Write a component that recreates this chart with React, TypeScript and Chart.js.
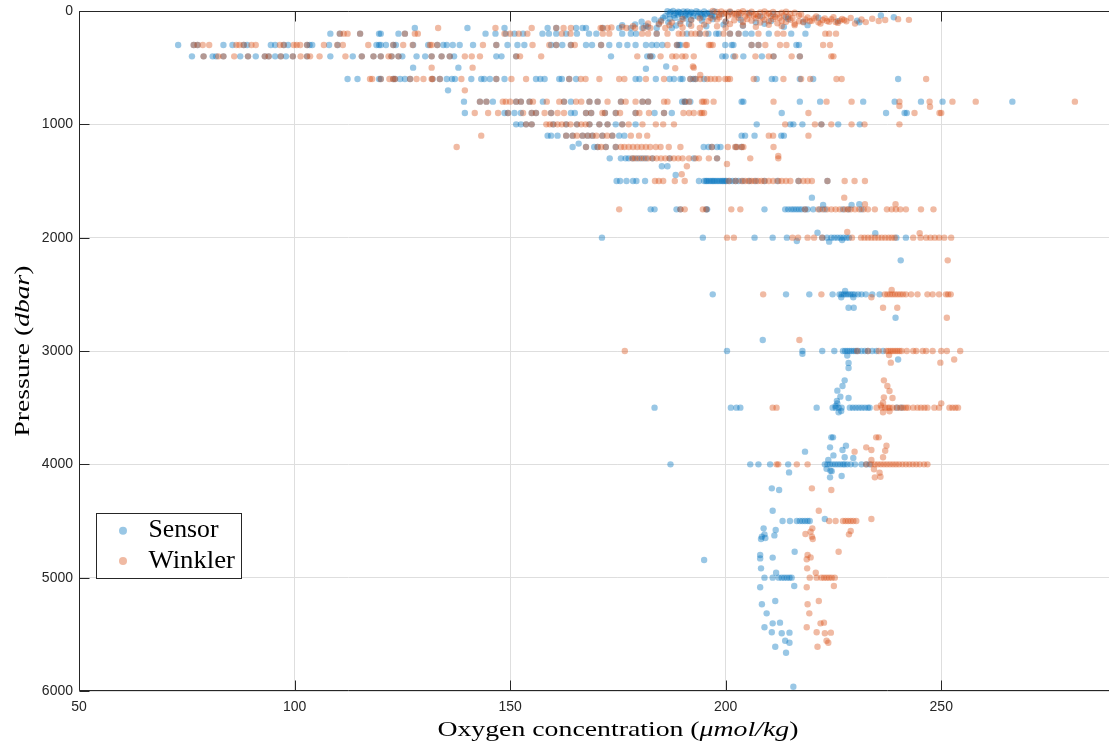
import React, { useEffect, useRef } from 'react';
import { Chart, registerables } from 'chart.js';

Chart.register(...registerables);

// Pressure levels (dbar) of the sampled bottles
const levels = [150, 200, 300, 400, 500, 600, 700, 800, 900, 1000, 1100, 1200, 1300, 1500, 1750, 2000, 2500, 3000, 3500, 4000, 4500, 5000];

// Sensor oxygen (umol/kg) per level
const sensorByLevel: number[][] = [
  [127.9, 140.1, 148.7, 158.7, 160.7, 165.3, 166.8, 167.6, 171.5, 175.3, 178, 180.7, 184, 187.5],
  [108.3, 110.5, 115.2, 119.6, 120.0, 124.1, 125.6, 144.3, 146.6, 149, 151, 153, 157.5, 159, 160.7, 163, 165.5, 168.3, 170, 176, 178, 179.2, 184, 191, 194, 196, 197.8, 198.4, 201, 203, 204.6, 206, 210, 215.2, 218.5],
  [73.0, 76.6, 77.5, 83.5, 85.6, 88.2, 89, 94.5, 95.5, 97.5, 98.5, 102.9, 103.5, 104.1, 108, 110, 119, 119.6, 120, 121.2, 122.9, 123.5, 127.5, 131, 133.1, 134.5, 135.3, 136.7, 138.3, 141.4, 146.8, 149.4, 151.7, 153.3, 159.5, 160.7, 162.1, 164.1, 167.6, 169, 171.1, 173, 175.3, 177.2, 179.1, 181.5, 182.9, 184, 185.3, 188.7, 189.1, 189.5, 199.9, 201.4, 201.8, 206, 207.6, 216.4, 217],
  [76.2, 78.9, 81.0, 81.8, 83.5, 87.4, 89.2, 91, 93.1, 94, 95.5, 96.8, 98, 99.6, 102.9, 108.3, 113.5, 115.6, 118.3, 120, 122.5, 124.1, 125, 128.3, 130.3, 131.8, 134.1, 136, 137, 146.8, 148, 151.4, 173.4, 181.8, 182.5, 183, 199.2, 200, 201.8, 204.1, 208.4, 211.1, 217.2],
  [127.5, 138],
  [112.3, 114.6, 119.6, 120, 122.9, 123.3, 124.5, 125.6, 126.8, 132, 133.7, 135.3, 136.5, 137.2, 141, 143.3, 144, 145.3, 146.8, 148.7, 156, 157, 158, 161.4, 162, 163.7, 165.3, 179.1, 180, 183.8, 187, 188, 189.5, 190, 191.8, 192.5, 193, 195, 207.2, 210.7, 211.5, 217.2, 220.3, 240],
  [135.6],
  [139.3, 143, 144.5, 146, 151.4, 152.5, 154.5, 157.6, 162.5, 164.1, 168.4, 170.3, 175.7, 180.7, 182, 189.9, 190.5, 190.7, 191.8, 203.7, 204.1, 217.2, 221.9, 231.9, 239.2, 245.3, 250.3, 266.5],
  [139.5, 148.7, 149.5, 151, 152.5, 155, 156, 159.5, 164.1, 165, 167.6, 168.8, 172, 174.5, 179.1, 183.5, 185.7, 187.5, 213, 237.2, 241.5, 242],
  [151.4, 152.5, 153.7, 155, 160, 163, 165.5, 168.4, 170.7, 172.6, 174.5, 176, 179.1, 207.2, 215, 215.7, 217.8, 222.2, 226.1, 231.1],
  [158.7, 159.5, 161, 163, 164.5, 166.8, 168, 169.1, 171.4, 173.7, 175.3, 176.5, 203.7, 204.5, 206.7, 212.9, 213.5],
  [164.5, 167.6, 169.5, 170.3, 172.2, 174.5, 194.9, 196, 196.8, 198, 198.8, 202.4, 203.7],
  [173.1, 175.7, 176.8, 177.5, 178.5, 179.5, 180.5, 181.5, 183, 187, 192.6, 198],
  [174.7, 175.5, 177, 178.5, 179.3, 181.3, 193.8, 195, 195.4, 195.7, 196.1, 196.5, 196.9, 197.2, 197.6, 198, 198.4, 198.8, 199.2, 199.5, 199.9, 200.2, 200.9, 201.6, 202.3, 203, 204, 205.5, 207, 209, 212, 216.9, 223.6],
  [182.6, 183.5, 188.6, 189.5, 195.5, 195.7, 209, 213.8, 214.5, 215.2, 215.8, 216.4, 217, 217.6, 218.4, 219, 220.3, 221.8, 223, 227.2, 228.5, 231.5],
  [171.3, 194.7, 206.7, 210.9, 214.2, 222.4, 223.5, 224.5, 225.2, 225.9, 226.6, 227.3, 228, 228.6, 239.6, 241.8],
  [197, 214, 219.4, 224.8, 226.4, 226.9, 227.4, 227.9, 228.4, 228.9, 229.4, 229.9, 230.7, 231.5, 232.5, 234, 235.7],
  [200.3, 217.8, 222.4, 225.2, 227.2, 227.7, 228.2, 228.7, 229.2, 229.7, 230.2, 230.7, 231.5, 232.3, 233, 234, 235, 236.5],
  [183.5, 201.2, 202.5, 203.4, 221.1, 224.8, 225.5, 226.2, 226.9, 228.8, 229.5, 230.2, 230.9, 231.6, 232.3, 233, 233.4, 239.7, 240.8],
  [187.2, 205.7, 207.6, 210.3, 214.5, 223, 223.6, 224.2, 224.8, 225.4, 226, 226.6, 227.2, 227.6, 228.2, 229, 230, 231.5, 232.6, 233.4],
  [213.2, 214.9, 216.5, 217.2, 217.8, 218.4, 219, 219.5],
  [209, 210.9, 212.3, 213, 213.6, 214.2, 214.8, 215.3],
];

// Winkler oxygen (umol/kg) per level
const winklerByLevel: number[][] = [
  [133.3, 146.6, 155.0, 160.7, 162.4, 164.1, 171.4, 172.6, 177, 179, 182.5, 186],
  [110.5, 111.4, 112.3, 115.2, 125.6, 127.9, 128.6, 148.7, 150, 152, 154, 162, 164, 171.5, 173, 180.6, 182, 184, 186.5, 189.1, 190, 192, 193, 194, 195.4, 199.5, 201, 203, 207.6, 212, 213.4, 223.1, 224, 225.6],
  [76.6, 77.5, 78.7, 80.2, 86.5, 87.2, 88.2, 90, 91.0, 96.6, 97.5, 99.8, 100.5, 101.3, 102.9, 106.8, 109.9, 111.2, 117.1, 122.9, 125.2, 127.4, 131.4, 131.8, 133.1, 143.7, 146.8, 155.2, 159.1, 160.7, 164.1, 165, 171.1, 186.5, 188.7, 190.7, 191, 196.1, 196.5, 197, 206, 207.6, 209.2, 212.6, 214.1, 222.6, 224.2],
  [78.9, 82.3, 83.5, 86.0, 89.2, 93.1, 94, 96.8, 99.6, 101.4, 102.9, 103.6, 105.8, 111.8, 115.6, 118.3, 120, 121.8, 122.5, 124.1, 131.8, 134.1, 136, 139.5, 141.1, 143, 151.4, 152.3, 157.2, 179.5, 182.5, 184.9, 187.6, 188.5, 189.9, 190.7, 192.6, 202.2, 206.9, 210, 211.1, 215.3, 217.2, 224.5, 225],
  [131.8, 141.3, 192.6],
  [117.5, 118, 120, 122, 122.9, 123.3, 126.8, 128.3, 129.9, 131.8, 132, 133.7, 138.7, 146.8, 150.3, 153.7, 163.7, 166.4, 167.5, 170.7, 175.3, 176.5, 181.5, 185.7, 191.8, 193, 194.1, 195.7, 196.5, 197.5, 198.4, 199.9, 200.5, 201, 206.5, 213.4, 217.5, 219.6, 225.7, 226.9, 246.5],
  [139.5],
  [143, 144.5, 148.3, 149, 150, 151.4, 152.5, 154.5, 155.3, 158.5, 161.4, 162.5, 165.3, 166.5, 168.4, 170.3, 172.6, 175.7, 176.8, 179.1, 180.7, 182, 185.7, 186.5, 190.5, 191.5, 194.5, 194.9, 195.5, 197.2, 211.1, 223.4, 229.2, 240.3, 247.3, 252.6, 258, 281],
  [141.8, 144.9, 147.2, 149.5, 153, 155, 156, 158, 159.5, 161, 162.5, 167.6, 168.8, 171.4, 172, 174.5, 175.5, 179.1, 180, 182.2, 185.7, 190.2, 191.5, 192.6, 194.1, 194.5, 195, 219.2, 243.8, 249.6, 250],
  [153.7, 155, 158.4, 159.2, 160, 161, 162, 163, 164, 165.5, 166.5, 167.5, 168.4, 170.7, 172.6, 176, 177.5, 180.7, 183.8, 185.5, 188, 213.8, 220.7, 222.2, 224.5, 229.2, 232.2, 240.3],
  [143.3, 163, 164.5, 165.5, 166.8, 168, 169.1, 170, 171.4, 172.5, 173.7, 178, 179.9, 181.8, 210, 211, 219.2],
  [137.6, 167.6, 170.3, 171.1, 172.2, 174.5, 175.7, 176.5, 177.5, 178.5, 179.5, 180.5, 181.5, 182.5, 183.8, 184.9, 186.8, 189.5, 196.8, 200.5, 202.2, 202.6, 203.7, 204.1, 211.1],
  [178.3, 179, 180, 181, 182, 183, 184, 185, 186, 187, 188, 189, 190, 191.5, 193, 193.8, 196.1, 198, 205.7, 212.2],
  [183.6, 184.5, 185.5, 188.2, 190.5, 200.7, 202.3, 203.7, 204.5, 205.3, 206, 206.7, 207.5, 208.3, 209, 210, 211, 212.2, 213, 214, 215, 216.9, 218, 219, 220, 223.6, 227.6, 229.9, 232.3],
  [175.3, 189.5, 190.5, 194.7, 195.5, 201.3, 203.4, 218.4, 221.5, 222.5, 223.5, 224.5, 225.5, 226.5, 227.6, 228.3, 229, 230, 231, 232, 233, 234.6, 237.4, 238.5, 239.5, 240.5, 241.8, 245.3, 248.2],
  [200.3, 201.9, 215.5, 216.8, 219, 220.5, 222.4, 229.3, 231.4, 232.2, 233, 233.8, 234.6, 235.4, 236.2, 237, 237.8, 238.5, 239.2, 243.5, 245.2, 246.5, 247.5, 248.5, 249.5, 250.7, 252.3],
  [208.7, 222.2, 236.9, 237.5, 238.1, 238.7, 239.3, 239.9, 240.5, 241.1, 241.8, 243, 244.5, 246.8, 248, 249.5, 251.1, 251.6, 252.2],
  [176.6, 230.5, 233, 235.5, 237.3, 237.8, 238.3, 238.8, 239.3, 239.8, 240.3, 240.8, 242, 243.5, 244.2, 245.7, 246.5, 248, 250, 251.3, 254.4],
  [210.9, 211.8, 235, 236.2, 237, 237.6, 238, 238.7, 239.7, 240.5, 241.2, 241.8, 242.3, 243.5, 244.5, 245.3, 246.1, 246.8, 248.4, 249.5, 251.9, 252.6, 253.3, 253.9],
  [211.8, 212.2, 216.5, 219, 232.6, 233.8, 234.6, 235.3, 236, 236.7, 237.4, 238.1, 238.8, 239.5, 240.2, 241, 241.8, 242.6, 243.4, 244.2, 245, 246, 246.8],
  [224, 225.5, 227.2, 227.8, 228.4, 229, 229.6, 230.3],
  [219.5, 221.1, 222.2, 222.8, 223.4, 224, 224.6, 225.3],
];

// Near-surface samples [oxygen, pressure]
const sensorSurface: number[][] = [
  [186.5, 2], [187.2, 10], [187.8, 0], [188.4, 18], [189, 6], [189.6, 25], [190.2, 3], [190.8, 14], [191.4, 30], [192, 8],
  [192.6, 20], [193.2, 1], [193.8, 12], [194.4, 35], [195, 5], [195.6, 22], [196.2, 15], [196.8, 40], [197.4, 4], [186, 45],
  [188, 38], [190, 50], [192.5, 44], [194.8, 55], [197.5, 48], [199, 28], [201, 10], [203, 35], [205.5, 20], [208, 45],
  [187, 28], [188.9, 32], [190.6, 40], [191.8, 22], [193.5, 48], [195.2, 30], [189.3, 12], [191.1, 5], [194.1, 26], [196.5, 32],
  [211, 30], [214, 55], [183.5, 75], [185, 82], [187, 68], [189.5, 90], [192, 78], [194.5, 85], [197, 72], [200, 95],
  [203.5, 80], [207, 100], [210.5, 88], [214.5, 70], [218, 95], [221.5, 60], [226, 90], [231, 100], [239, 55], [176, 125],
  [179, 118], [181.5, 130], [184.5, 110], [188.5, 128], [191.5, 115], [195.5, 135], [199.5, 120], [204, 130], [209, 112], [213.5, 140], [219, 125],
  [185.5, 60], [188.2, 62], [190.8, 66], [186.7, 100], [180.5, 95], [182, 140], [230.5, 85], [236, 40],
];
const winklerSurface: number[][] = [
  [197, 0], [198, 8], [199, 3], [200, 15], [201, 5], [202, 22], [203, 10], [204, 2], [205, 18], [206, 7],
  [207, 28], [208, 12], [209, 4], [210, 20], [211, 9], [212, 30], [213, 14], [214, 6], [215, 24], [216, 16],
  [198.5, 35], [200.5, 42], [202.5, 32], [204.5, 48], [206.5, 38], [208.5, 55], [210.5, 45], [212.5, 60], [214.5, 50], [217, 40],
  [219, 58], [221, 48], [223, 65], [225, 55], [227, 70], [229, 62], [231.5, 75], [234, 68], [237, 80], [240, 72],
  [242.5, 78], [235.5, 88], [190, 70], [192, 80], [194, 65], [196, 88], [198, 75], [200, 92], [202, 82], [204, 98],
  [206, 85], [208, 102], [210, 90], [212, 108], [214, 95], [216, 112], [218, 100], [220, 85], [222, 110], [224, 95],
  [226, 105], [228, 90], [230, 110], [232.5, 98], [185, 92], [187.5, 100], [182, 110], [184.5, 118], [187, 125], [189.5, 112],
  [192, 130], [195, 120], [198, 135], [201, 115], [204, 128], [207, 140], [210, 122], [213, 132], [216, 125], [171, 150],
  [173.5, 145], [176, 140], [178.5, 135], [181, 150], [190, 145], [194, 150], [200, 148],
  [199.5, 25], [201.5, 30], [203.5, 20], [205.5, 35], [207.5, 45], [209.5, 32], [211.5, 52], [213.5, 40], [215.5, 62], [217.5, 30],
  [218.5, 75], [220.5, 65], [222.5, 80], [224.5, 72], [226.5, 85], [219.5, 90], [221.5, 100], [223.5, 88], [225.5, 96], [227.5, 80],
  [203, 60], [205, 70], [207, 65], [209, 78], [211, 70], [213, 85], [215, 78], [217, 90], [198.5, 55], [196.5, 60],
];

// Off-level samples [oxygen, pressure]
const sensorExtra: number[][] = [
  [181.5, 510], [186.2, 490], [165.9, 1170], [185.2, 1370], [186.5, 1370], [188.4, 1447], [220, 1647], [222.6, 1712], [229.2, 1712], [231, 1705],
  [216.5, 2030], [224, 2035], [221.3, 1956], [234.7, 1960], [227, 2020], [240.6, 2200], [227.7, 2470], [226.8, 2526], [229.6, 2526], [228.5, 2618],
  [229.7, 2618], [239.4, 2706], [208.6, 2903], [228.2, 3040], [240, 3075], [228.5, 3105], [228.5, 3150], [217.8, 3025], [227.6, 3259], [227.1, 3309],
  [225.9, 3350], [226.6, 3403], [228.5, 3415], [225.8, 3440], [225.9, 3462], [225.5, 3485], [226.2, 3541], [226.8, 3530], [224.5, 3762], [224.9, 3762],
  [224.2, 3850], [227.9, 3835], [227.1, 3874], [225, 3921], [227.6, 3938], [229.6, 3944], [223.8, 3962], [218.4, 3888], [214.7, 4071], [224.3, 4056],
  [224.6, 4060], [224.2, 4115], [226.9, 4103], [223.4, 4040], [210.7, 4212], [212.4, 4226], [210.9, 4409], [223, 4483], [208.8, 4565], [211.6, 4580],
  [209, 4618], [211.3, 4627], [208.4, 4638], [208.2, 4659], [209.2, 4650], [216, 4771], [208, 4800], [208, 4830], [210.9, 4823], [208.2, 4918],
  [211.7, 4956], [208, 5085], [215.9, 5074], [208.4, 5235], [211.5, 5206], [209.5, 5315], [210.9, 5403], [212.6, 5397], [209, 5438], [210.7, 5482],
  [213, 5491], [214.8, 5485], [213.8, 5556], [214.8, 5574], [211.5, 5609], [214, 5662], [215.7, 5962], [195, 4844],
];
const winklerExtra: number[][] = [
  [188.3, 505], [192.4, 490], [194.1, 565], [240.3, 838], [247.4, 845], [212.2, 1280], [191, 1370], [200.3, 1350], [189.8, 1440], [227.5, 1647],
  [232.3, 1705], [239.4, 1705], [228.2, 1950], [245, 1960], [251.5, 2200], [238.5, 2462], [233.8, 2526], [236.5, 2618], [239.8, 2618], [251.3, 2706],
  [217.1, 2903], [237.9, 3035], [238.3, 3103], [249.8, 3103], [253, 3075], [236.7, 3259], [237.5, 3309], [238, 3353], [236.7, 3409], [238.7, 3415],
  [236.5, 3456], [236, 3480], [236.5, 3541], [238, 3532], [250, 3462], [234.9, 3762], [235.5, 3762], [237.3, 3835], [232.6, 3850], [233.8, 3874],
  [237, 3880], [229.9, 3888], [236.5, 3938], [233.8, 3962], [234.4, 4044], [234.6, 4115], [235.7, 4074], [235.9, 4109], [220, 4212], [224.5, 4226],
  [221.6, 4409], [233.8, 4483], [229, 4588], [228.6, 4618], [220.1, 4565], [219.7, 4594], [218.5, 4615], [220, 4638], [220.2, 4659], [226.2, 4771],
  [219, 4800], [218.8, 4838], [219.7, 4821], [218.9, 4918], [220.9, 4956], [218.8, 5085], [225.1, 5074], [219, 5235], [221.6, 5206], [219.4, 5315],
  [222, 5403], [222.8, 5397], [218.8, 5438], [221.1, 5482], [223, 5491], [224.4, 5485], [223.4, 5556], [223.8, 5574], [221.3, 5609],
];

const xTicks = [50, 100, 150, 200, 250];
const yTicks = [0, 1000, 2000, 3000, 4000, 5000, 6000];
const seriesNames = ['Sensor', 'Winkler'];

const SENSOR_COLOR = 'rgba(0,114,189,0.4)';
const WINKLER_COLOR = 'rgba(217,83,25,0.4)';
const AXIS_COLOR = '#262626';
const SERIF = '"Liberation Serif", "Times New Roman", serif';

function toPoints(rows: number[][], surface: number[][], extra: number[][]) {
  return [
    ...rows.flatMap((xs, i) => xs.map((x) => ({ x, y: levels[i] }))),
    ...surface.map(([x, y]) => ({ x, y })),
    ...extra.map(([x, y]) => ({ x, y })),
  ];
}

type Part = { t: string; it?: boolean };

function drawFitted(ctx: CanvasRenderingContext2D, parts: Part[], size: number, cx: number, baseline: number, targetW: number, rotate: boolean, align: 'center' | 'left' = 'center') {
  ctx.save();
  const widths = parts.map((p) => {
    ctx.font = `${p.it ? 'italic ' : ''}${size}px ${SERIF}`;
    return ctx.measureText(p.t).width;
  });
  const total = widths.reduce((a, b) => a + b, 0);
  const s = targetW / total;
  ctx.translate(cx, baseline);
  if (rotate) ctx.rotate(-Math.PI / 2);
  ctx.scale(s, 1);
  ctx.textBaseline = 'alphabetic';
  ctx.textAlign = 'left';
  ctx.fillStyle = '#000';
  let x = align === 'center' ? -total / 2 : 0;
  parts.forEach((p, i) => {
    ctx.font = `${p.it ? 'italic ' : ''}${size}px ${SERIF}`;
    ctx.fillText(p.t, x, 0);
    x += widths[i];
  });
  ctx.restore();
}

const decorPlugin = {
  id: 'decor',
  beforeDatasetsDraw(chart: any) {
    const { ctx, chartArea: a, scales } = chart;
    ctx.save();
    ctx.strokeStyle = AXIS_COLOR;
    ctx.lineWidth = 1;
    const L = Math.round(a.left) + 0.5;
    const T = Math.round(a.top) + 0.5;
    const B = Math.round(a.bottom) - 0.5;
    const R = Math.round(a.right) - 0.5;
    ctx.beginPath();
    ctx.moveTo(L, T); ctx.lineTo(R, T);
    ctx.moveTo(L, T); ctx.lineTo(L, B);
    ctx.moveTo(L, B); ctx.lineTo(R, B);
    ctx.moveTo(R, T); ctx.lineTo(R, B);
    const tl = 10;
    xTicks.forEach((v) => {
      const px = Math.round(scales.x.getPixelForValue(v)) + 0.5;
      ctx.moveTo(px, B); ctx.lineTo(px, B - tl);
      ctx.moveTo(px, T); ctx.lineTo(px, T + tl);
    });
    yTicks.forEach((v) => {
      const py = Math.round(scales.y.getPixelForValue(v)) + 0.5;
      ctx.moveTo(L, py); ctx.lineTo(L + tl, py);
      ctx.moveTo(R, py); ctx.lineTo(R - tl, py);
    });
    ctx.stroke();
    ctx.restore();
  },
  afterDraw(chart: any) {
    const { ctx, chartArea: a } = chart;
    const cx = (a.left + a.right) / 2;
    const cy = (a.top + a.bottom) / 2;
    drawFitted(ctx, [{ t: 'Oxygen concentration (' }, { t: 'μmol/kg', it: true }, { t: ')' }], 22, cx, 736, 361, false);
    drawFitted(ctx, [{ t: 'Pressure (' }, { t: 'dbar', it: true }, { t: ')' }], 22, 29, cy, 171, true);

    // legend
    ctx.save();
    ctx.fillStyle = '#fff';
    ctx.fillRect(97, 513, 144, 66);
    ctx.strokeStyle = AXIS_COLOR;
    ctx.lineWidth = 1;
    ctx.strokeRect(96.5, 513.5, 145, 65);
    const marks = [
      { c: SENSOR_COLOR, y: 530.7, name: seriesNames[0], base: 537.3, w: 70 },
      { c: WINKLER_COLOR, y: 561, name: seriesNames[1], base: 567.7, w: 86.5 },
    ];
    marks.forEach((m) => {
      ctx.beginPath();
      ctx.fillStyle = m.c;
      ctx.arc(123, m.y, 4, 0, Math.PI * 2);
      ctx.fill();
    });
    ctx.restore();
    marks.forEach((m) => drawFitted(ctx, [{ t: m.name }], 25, 148.5, m.base, m.w, false, 'left'));
  },
};

export default function App() {
  const ref = useRef<HTMLCanvasElement>(null);
  useEffect(() => {
    const canvas = ref.current;
    if (!canvas) return;
    const tickFont = { family: '"Liberation Sans", Arial, Helvetica, sans-serif', size: 14 };
    const chart = new Chart(canvas, {
      type: 'scatter',
      data: {
        datasets: [
          {
            label: seriesNames[1],
            data: toPoints(winklerByLevel, winklerSurface, winklerExtra),
            backgroundColor: WINKLER_COLOR,
            borderWidth: 0,
            pointRadius: 3.2,
            pointHoverRadius: 3.2,
            clip: false as any,
          },
          {
            label: seriesNames[0],
            data: toPoints(sensorByLevel, sensorSurface, sensorExtra),
            backgroundColor: SENSOR_COLOR,
            borderWidth: 0,
            pointRadius: 3.2,
            pointHoverRadius: 3.2,
            clip: false as any,
          },
        ],
      },
      options: {
        animation: false,
        responsive: false,
        events: [],
        layout: { padding: { top: 11, right: 2, left: 0, bottom: 0 } },
        plugins: { legend: { display: false }, tooltip: { enabled: false } },
        scales: {
          x: {
            type: 'linear',
            min: 50,
            max: 300,
            afterBuildTicks: (s: any) => { s.ticks = xTicks.map((v) => ({ value: v })); },
            afterFit: (s: any) => { s.height = 56; s.paddingLeft = 0; s.paddingRight = 0; },
            grid: { color: '#dedede', drawTicks: false },
            border: { display: false },
            ticks: { color: AXIS_COLOR, font: tickFont, padding: 8, maxRotation: 0, autoSkip: false, callback: (v: any) => String(v) },
          },
          y: {
            type: 'linear',
            reverse: true,
            min: 0,
            max: 6000,
            afterBuildTicks: (s: any) => { s.ticks = yTicks.map((v) => ({ value: v })); },
            afterFit: (s: any) => { s.width = 79; s.paddingTop = 0; s.paddingBottom = 0; },
            grid: { color: '#dedede', drawTicks: false },
            border: { display: false },
            ticks: { color: AXIS_COLOR, font: tickFont, padding: 6, autoSkip: false, callback: (v: any) => String(v) },
          },
        },
      },
      plugins: [decorPlugin],
    });
    return () => chart.destroy();
  }, []);
  return (
    <div style={{ position: 'absolute', left: 0, top: 0, width: 1109, height: 747, overflow: 'hidden', background: '#fff' }}>
      <canvas ref={ref} width={1160} height={747} style={{ display: 'block', width: 1160, height: 747 }} />
    </div>
  );
}
